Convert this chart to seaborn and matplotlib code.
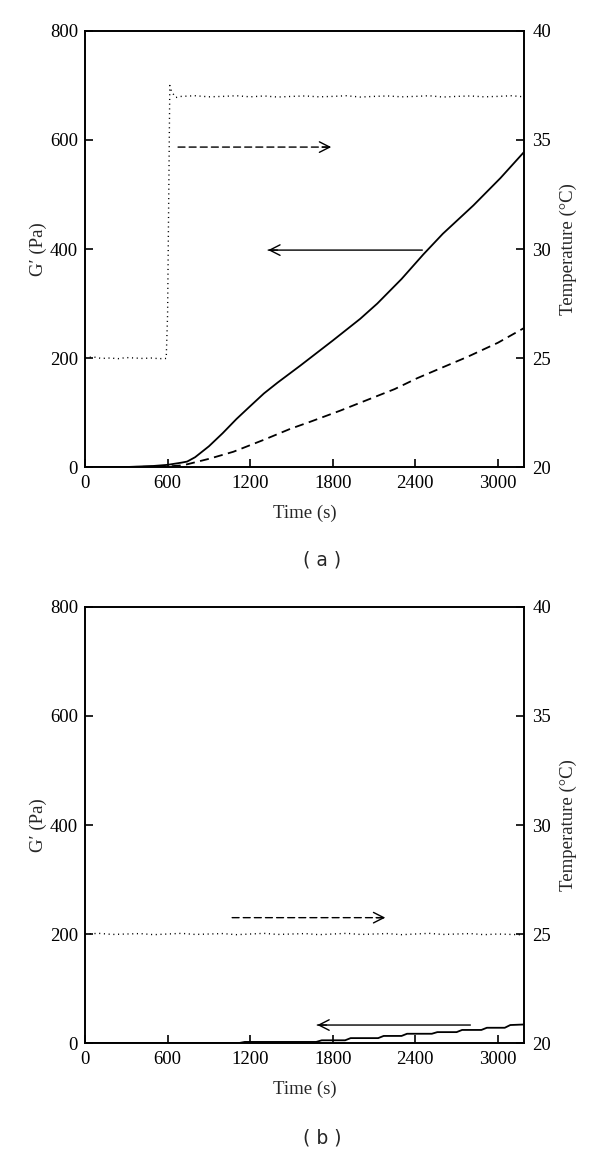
"""
G' and temperature vs time, two panels (a) and (b)
"""
import matplotlib

matplotlib.use("Agg")
import matplotlib.pyplot as plt
import pandas as pd
import seaborn as sns

# ---- panel (a) data ----
a_solid_t = [0, 300, 500, 600, 700, 742, 800, 900, 1000, 1100, 1193, 1300, 1400,
             1564, 1800, 2000, 2124, 2300, 2458, 2600, 2822, 3018, 3190]
a_solid_g = [0, 0, 2, 4, 8, 10, 18, 38, 62, 88, 110, 135, 155,
             186, 232, 272, 300, 345, 390, 428, 480, 530, 578]

a_dash_t = [0, 300, 600, 700, 742, 900, 1078, 1300, 1491, 1636, 1850, 2050,
            2250, 2414, 2600, 2778, 3000, 3190]
a_dash_g = [0, 0, 1, 3, 5, 15, 28, 50, 70, 83, 103, 123,
            143, 163, 183, 202, 228, 255]

a_temp_t = [0, 60, 120, 180, 240, 300, 360, 420, 480, 540, 590, 600, 610, 616,
            630, 660, 700, 800, 900, 1000, 1100, 1200, 1300, 1400, 1500, 1600,
            1700, 1800, 1900, 2000, 2100, 2200, 2300, 2400, 2500, 2600, 2700,
            2800, 2900, 3000, 3100, 3190]
a_temp_c = [25.02, 25.05, 24.98, 25.0, 24.97, 25.02, 25.0, 24.98, 25.0, 24.97,
            24.98, 27.0, 33.5, 37.5, 37.2, 36.95, 37.0, 37.03, 36.98, 37.0,
            37.03, 36.98, 37.02, 36.97, 37.0, 37.02, 36.98, 37.0, 37.03, 36.97,
            37.0, 37.02, 36.98, 37.0, 37.03, 36.97, 37.0, 37.02, 36.98, 37.0,
            37.03, 36.98]

# ---- panel (b) data ----
b_solid_t = [0, 1120, 1160, 1680, 1720, 1890, 1930, 2130, 2170, 2300, 2340,
             2520, 2560, 2700, 2740, 2880, 2920, 3050, 3090, 3190]
b_solid_g = [0, 0, 2, 2, 5, 5, 9, 9, 13, 13, 17, 17, 20, 20, 24, 24, 28, 28,
             33, 34]

b_temp_t = [0, 100, 200, 300, 400, 500, 600, 700, 800, 900, 1000, 1100, 1200,
            1300, 1400, 1500, 1600, 1700, 1800, 1900, 2000, 2100, 2200, 2300,
            2400, 2500, 2600, 2700, 2800, 2900, 3000, 3100, 3190]
b_temp_c = [25.0, 25.03, 24.98, 25.0, 25.02, 24.97, 25.0, 25.03, 24.98, 25.0,
            25.02, 24.97, 25.0, 25.03, 24.98, 25.0, 25.02, 24.97, 25.0, 25.03,
            24.98, 25.0, 25.02, 24.97, 25.0, 25.03, 24.98, 25.0, 25.02, 24.97,
            25.0, 24.98, 24.96]

x_ticks = [0, 600, 1200, 1800, 2400, 3000]
g_ticks = [0, 200, 400, 600, 800]
t_ticks = [20, 25, 30, 35, 40]

sns.set_theme(style="ticks")
plt.rcParams["font.family"] = ["Liberation Serif", "DejaVu Serif"]
plt.rcParams["font.size"] = 13.5
plt.rcParams["axes.linewidth"] = 1.2

FS = 13.5
DOT = (0, (0.8, 2.6))
DASH = (0, (5, 3))


def arrow(ax, x0, x1, y, dashed):
    ls = DASH if dashed else "-"
    # shaft
    ax.annotate("", xy=(x1, y), xytext=(x0, y),
                arrowprops=dict(arrowstyle="-", color="black", lw=1.0,
                                linestyle=ls, shrinkA=0, shrinkB=0))
    # head
    step = (x1 - x0) * 0.06
    ax.annotate("", xy=(x1, y), xytext=(x1 - step, y),
                arrowprops=dict(arrowstyle="->,head_length=0.55,head_width=0.28",
                                color="black", lw=1.0, shrinkA=0, shrinkB=0))


def setup(ax, ax2):
    ax.set_xlim(0, 3190)
    ax.set_ylim(0, 800)
    ax2.set_ylim(20, 40)
    ax.set_xticks(x_ticks)
    ax.set_yticks(g_ticks)
    ax2.set_yticks(t_ticks)
    ax.tick_params(axis="y", direction="in", length=6, width=1.2, right=False,
                   labelsize=FS, pad=5, colors="black")
    ax.tick_params(axis="x", direction="in", length=6, width=1.2, top=False,
                   labelsize=FS, pad=6, colors="black")
    ax2.tick_params(direction="in", length=6, width=1.2, labelsize=FS, pad=6,
                    colors="black")
    ax.set_xlabel("Time (s)", fontsize=FS, labelpad=9)
    ax.set_ylabel("G′ (Pa)", fontsize=FS, labelpad=2)
    ax2.set_ylabel("Temperature (°C)", fontsize=FS, labelpad=6)
    for s in ax.spines.values():
        s.set_color("black")
        s.set_linewidth(1.2)
    for s in ax2.spines.values():
        s.set_color("black")
        s.set_linewidth(1.2)


fig = plt.figure(figsize=(6, 11.52), dpi=100)
ax_a = fig.add_axes([0.1417, 0.5946, 0.7317, 0.3785])
ax_b = fig.add_axes([0.1417, 0.0946, 0.7317, 0.3785])

# panel (a)
ax_a2 = ax_a.twinx()
sns.lineplot(data=pd.DataFrame({"t": a_solid_t, "g": a_solid_g}), x="t", y="g",
             ax=ax_a, color="black", lw=1.3)
sns.lineplot(data=pd.DataFrame({"t": a_dash_t, "g": a_dash_g}), x="t", y="g",
             ax=ax_a, color="black", lw=1.3, linestyle=DASH)
sns.lineplot(data=pd.DataFrame({"t": a_temp_t, "c": a_temp_c}), x="t", y="c",
             ax=ax_a2, color="black", lw=1.0, linestyle=DOT)
setup(ax_a, ax_a2)
arrow(ax_a, 676, 1789, 587, dashed=True)
arrow(ax_a, 2451, 1331, 398, dashed=False)

# panel (b)
ax_b2 = ax_b.twinx()
sns.lineplot(data=pd.DataFrame({"t": b_solid_t, "g": b_solid_g}), x="t", y="g",
             ax=ax_b, color="black", lw=1.3)
sns.lineplot(data=pd.DataFrame({"t": b_temp_t, "c": b_temp_c}), x="t", y="c",
             ax=ax_b2, color="black", lw=1.0, linestyle=DOT)
setup(ax_b, ax_b2)
arrow(ax_b, 1069, 2182, 230, dashed=True)
arrow(ax_b, 2800, 1688, 33, dashed=False)

fig.text(322 / 600, 1 - 560 / 1152, "( a )", ha="center", va="center",
         fontsize=FS, family=["DejaVu Sans"])
fig.text(322 / 600, 1 - 1138 / 1152, "( b )", ha="center", va="center",
         fontsize=FS, family=["DejaVu Sans"])

fig.savefig("out.png", dpi=100, facecolor="white")
